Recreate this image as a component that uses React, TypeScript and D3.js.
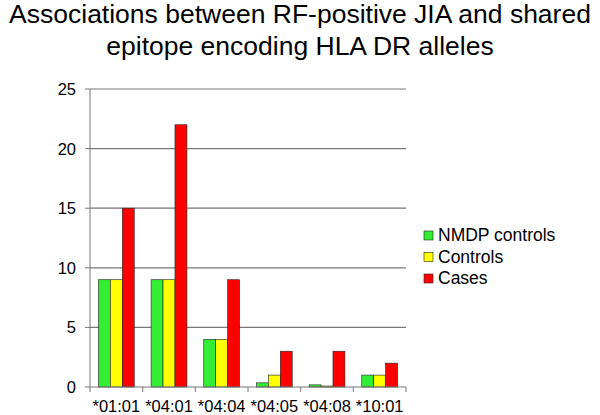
import React from "react";
import * as d3 from "d3";

const categories = ["*01:01", "*04:01", "*04:04", "*04:05", "*04:08", "*10:01"];
const seriesNames = ["NMDP controls", "Controls", "Cases"];
const nmdpControls = [9, 9, 4, 0.35, 0.18, 1];
const controls = [9, 9, 4, 1, 0.08, 1];
const cases = [15, 22, 9, 3, 3, 2];
const yTicks = [0, 5, 10, 15, 20, 25];
const colors = ["#33ee33", "#ffff00", "#ff0000"];

export default function App() {
  const W = 600, H = 415;
  const left = 90, right = 406, top = 89, bottom = 387;
  const x = d3.scaleBand<string>().domain(categories).range([left, right]).paddingInner(0.32).paddingOuter(0.16);
  const y = d3.scaleLinear().domain([0, 25]).range([bottom, top]);
  const series = [nmdpControls, controls, cases];
  const bw = x.bandwidth() / 3;
  const step = (right - left) / categories.length;
  const font = "Arial, 'Liberation Sans', sans-serif";
  return (
    <svg width={W} height={H} style={{ position: "absolute", left: 0, top: 0 }} fontFamily={font}>
      <rect width={W} height={H} fill="#fff" />
      <text x={300} y={23} textAnchor="middle" fontSize={26.5}>Associations between RF-positive JIA and shared</text>
      <text x={300} y={55} textAnchor="middle" fontSize={26.5}>epitope encoding HLA DR alleles</text>
      {yTicks.map((t) => (
        <g key={t}>
          {t > 0 && <line x1={left} x2={right} y1={y(t)} y2={y(t)} stroke="#777" strokeWidth={1.2} />}
          <line x1={left - 5} x2={left} y1={y(t)} y2={y(t)} stroke="#777" />
          <text x={left - 14} y={y(t) + 6} textAnchor="end" fontSize={16.5}>{t}</text>
        </g>
      ))}
      {categories.map((c, i) =>
        series.map((s, j) => (
          <rect key={c + j} x={(x(c) as number) + j * bw} y={y(s[i])} width={bw} height={bottom - y(s[i])}
            fill={colors[j]} stroke="#222" strokeWidth={0.6} />
        ))
      )}
      <line x1={left} x2={left} y1={top} y2={bottom} stroke="#777" />
      <line x1={left} x2={right} y1={bottom} y2={bottom} stroke="#777" />
      {d3.range(categories.length + 1).map((i) => (
        <line key={i} x1={left + i * step} x2={left + i * step} y1={bottom} y2={bottom + 5} stroke="#777" />
      ))}
      {categories.map((c) => (
        <text key={c} x={(x(c) as number) + x.bandwidth() / 2} y={412} textAnchor="middle" fontSize={16.5}>{c}</text>
      ))}
      {seriesNames.map((n, j) => (
        <g key={n}>
          <rect x={424} y={231 + j * 21.5} width={9} height={9} fill={colors[j]} stroke="#222" strokeWidth={0.6} />
          <text x={438} y={241 + j * 21.5} fontSize={17.5}>{n}</text>
        </g>
      ))}
    </svg>
  );
}
